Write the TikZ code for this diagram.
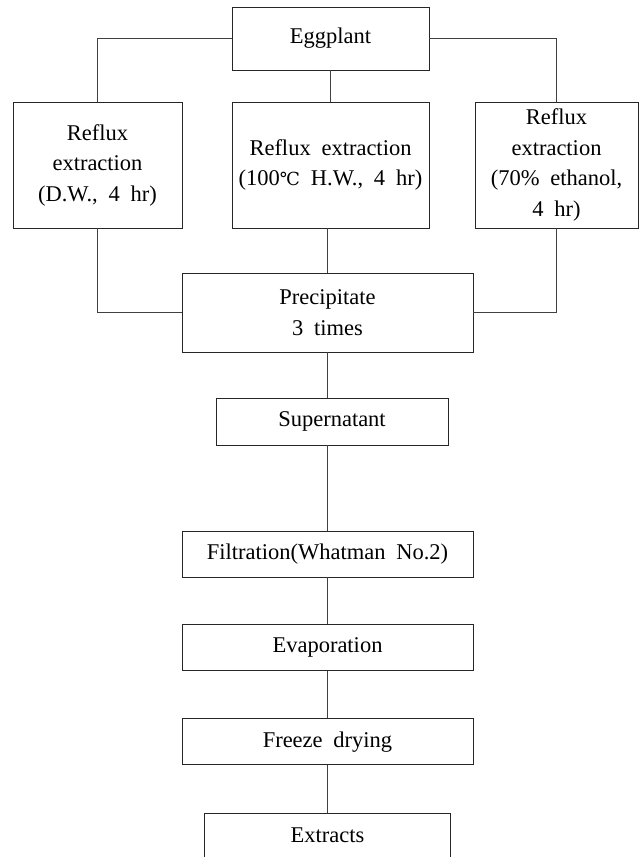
\documentclass[tikz,border=0pt]{standalone}
\usepackage{fontspec}
\setmainfont{Liberation Serif}
\newfontfamily\celsiusfont{DejaVu Serif}
\usepackage{tikz}
\usetikzlibrary{positioning, calc}
\newcommand{\flowfont}{\fontsize{22.5}{30.5}\selectfont\spaceskip=0.48em\relax}
\newcommand{\celsius}{{\celsiusfont\fontsize{18}{30}\selectfont ℃}}
\tikzset{
  stepbox/.style={draw=black!85, line width=0.9pt, inner sep=0pt,
    align=center, font=\flowfont},
  link/.style={draw=black!75, line width=0.9pt},
}

\begin{document}
\begin{tikzpicture}[x=1pt, y=-1pt]
  \useasboundingbox (0,0) rectangle (640,857);
  % source and the three extractions
  \node[stepbox, minimum width=197pt, minimum height=63pt] (egg) at (330.5,38.5) {Eggplant};
  \node[stepbox, minimum width=169pt, minimum height=126pt] (dw) at (97.5,165)
    {Reflux\\extraction\\(D.W., 4 hr)};
  \node[stepbox, minimum width=197pt, minimum height=126pt] (hw) at (330.5,165)
    {Reflux extraction\\(100\celsius\ H.W., 4 hr)};
  \node[stepbox, minimum width=163pt, minimum height=126pt] (eth) at (556.5,165)
    {Reflux\\extraction\\(70\% ethanol,\\4 hr)};
  % common work-up
  \node[stepbox, minimum width=291pt, minimum height=79pt] (prec) at (327.5,312.5)
    {Precipitate\\3 times};
  \node[stepbox, minimum width=232pt, minimum height=47pt] (sup) at (332,421.5) {Supernatant};
  \node[stepbox, minimum width=291pt, minimum height=46pt] (filt) at (327.5,554)
    {Filtration(Whatman No.2)};
  \node[stepbox, minimum width=291pt, minimum height=46pt, below=47pt of filt] (evap) {Evaporation};
  \node[stepbox, minimum width=291pt, minimum height=46pt, below=47pt of evap] (fd) {Freeze drying};
  \node[stepbox, minimum width=246pt, minimum height=44pt, below=47.5pt of fd] (ext) {Extracts};
  % connectors
  \draw[link] (egg.west) -| (dw.north);
  \draw[link] (egg.east) -| (eth.north);
  \draw[link] (egg) -- (hw);
  \draw[link] (dw.south) |- (prec.west);
  \draw[link] (eth.south) |- (prec.east);
  \draw[link] (prec.north) -- (prec.north |- hw.south);
  \draw[link] (prec.south) -- (prec.south |- sup.north);
  \draw[link] (filt.north |- sup.south) -- (filt.north);
  \draw[link] (filt) -- (evap);
  \draw[link] (evap) -- (fd);
  \draw[link] (fd) -- (ext);
\end{tikzpicture}
\end{document}
